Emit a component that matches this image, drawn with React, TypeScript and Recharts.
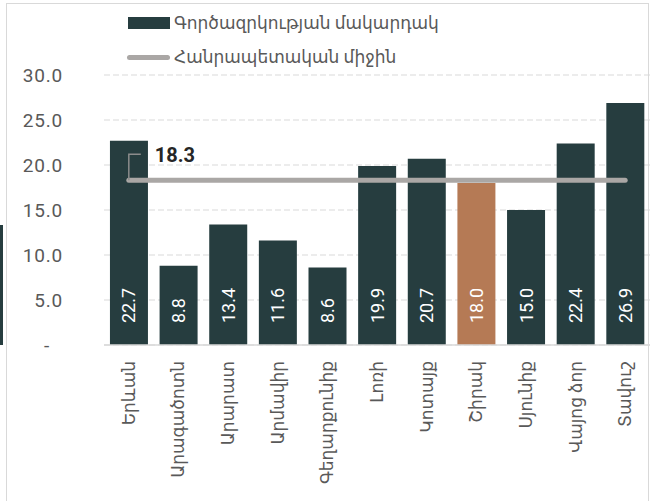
import React from 'react'
import { ComposedChart, Bar, Line, XAxis, YAxis, CartesianGrid, Cell, LabelList } from 'recharts'

const REGIONS = [
  'Երևան',
  'Արագածոտն',
  'Արարատ',
  'Արմավիր',
  'Գեղարքունիք',
  'Լոռի',
  'Կոտայք',
  'Շիրակ',
  'Սյունիք',
  'Վայոց ձոր',
  'Տավուշ',
]
const RATES = [22.7, 8.8, 13.4, 11.6, 8.6, 19.9, 20.7, 18.0, 15.0, 22.4, 26.9]
const NATIONAL_AVG = 18.3
const Y_TICKS = [0, 5, 10, 15, 20, 25, 30]
const HIGHLIGHT = 'Շիրակ'
const SERIES_NAMES = ['Գործազրկության մակարդակ', 'Հանրապետական միջին']

const data = REGIONS.map((region, i) => ({ region, rate: RATES[i], avg: NATIONAL_AVG }))

const FONT = 'Roboto, "Noto Sans", "DejaVu Sans", sans-serif'
const DARK = '#263d3f'
const ORANGE = '#b57a55'
const GREY_TEXT = '#595959'
const AVG_GREY = '#aaa7a5'

function YTick({ x, y, payload }: any) {
  const zero = payload.value === 0
  return (
    <text
      x={zero ? x - 13 : x}
      y={y}
      textAnchor="end"
      dominantBaseline="central"
      fill={GREY_TEXT}
      fontSize={19}
      fontFamily={FONT}
      letterSpacing={0.8}
    >
      {zero ? '-' : Number(payload.value).toFixed(1)}
    </text>
  )
}

function XTick({ x, y, payload }: any) {
  return (
    <text
      transform={`translate(${x},${y + 16}) rotate(-90)`}
      textAnchor="end"
      dominantBaseline="central"
      fill={GREY_TEXT}
      fontSize={17}
      fontFamily={FONT}
    >
      {payload.value}
    </text>
  )
}

function BarValue(props: any) {
  const x = Number(props.x)
  const y = Number(props.y)
  const w = Number(props.width)
  const h = Number(props.height)
  const cx = x + w / 2
  const by = y + h - 22
  return (
    <text
      transform={`translate(${cx},${by}) rotate(-90)`}
      textAnchor="start"
      dominantBaseline="central"
      fill="#ffffff"
      fontSize={18}
      fontFamily={FONT}
    >
      {Number(props.value).toFixed(1)}
    </text>
  )
}

function AvgLabel(props: any) {
  if (props.index !== 0) return null
  const x = Number(props.x)
  const y = Number(props.y)
  return (
    <g>
      <polyline
        points={`${x},${y} ${x},${y - 26} ${x + 12},${y - 26}`}
        fill="none"
        stroke="#8c8c8c"
        strokeWidth={1.5}
      />
      <text
        x={x + 26}
        y={y - 25}
        dominantBaseline="central"
        fill="#262626"
        fontSize={20}
        fontWeight={700}
        fontFamily={FONT}
      >
        {Number(props.value).toFixed(1)}
      </text>
    </g>
  )
}

export default function App() {
  return (
    <div
      style={{
        position: 'absolute',
        left: 0,
        top: 0,
        width: 650,
        height: 501,
        background: '#ffffff',
        overflow: 'hidden',
        fontFamily: FONT,
      }}
    >
      {/* frame of the surrounding sheet */}
      <div style={{ position: 'absolute', left: 6, top: 3, width: 643, height: 1, background: '#d9d9d9' }} />
      <div style={{ position: 'absolute', left: 6, top: 3, width: 1, height: 498, background: '#d9d9d9' }} />
      <div style={{ position: 'absolute', left: 648, top: 3, width: 1, height: 498, background: '#d9d9d9' }} />
      <div style={{ position: 'absolute', left: 0, top: 225, width: 3, height: 120, background: DARK }} />

      <ComposedChart
        width={650}
        height={501}
        data={data}
        margin={{ top: 75, right: 0, bottom: 0, left: 0 }}
        barCategoryGap="12%"
        style={{ position: 'absolute', left: 0, top: 0 }}
      >
        <CartesianGrid vertical={false} stroke="#d9d9d9" strokeDasharray="6 3" />
        <XAxis
          dataKey="region"
          interval={0}
          height={156}
          tickLine={false}
          tickSize={0}
          tickMargin={0}
          axisLine={{ stroke: '#d9d9d9', strokeWidth: 1.5 }}
          tick={<XTick />}
        />
        <YAxis
          width={104}
          domain={[0, 30]}
          ticks={Y_TICKS}
          axisLine={false}
          tickLine={false}
          tickSize={0}
          tickMargin={41}
          tick={<YTick />}
        />
        <Bar dataKey="rate" name={SERIES_NAMES[0]} isAnimationActive={false}>
          {data.map(d => (
            <Cell key={d.region} fill={d.region === HIGHLIGHT ? ORANGE : DARK} />
          ))}
          <LabelList dataKey="rate" content={<BarValue />} />
        </Bar>
        <Line
          dataKey="avg"
          name={SERIES_NAMES[1]}
          stroke={AVG_GREY}
          strokeWidth={5}
          strokeLinecap="round"
          dot={false}
          activeDot={false}
          isAnimationActive={false}
        >
          <LabelList dataKey="avg" content={<AvgLabel />} />
        </Line>
      </ComposedChart>

      {/* legend */}
      <div style={{ position: 'absolute', left: 128, top: 17, width: 42, height: 12, background: DARK }} />
      <div
        style={{
          position: 'absolute',
          left: 174,
          top: 12,
          fontSize: 17,
          lineHeight: '22px',
          color: GREY_TEXT,
          whiteSpace: 'nowrap',
        }}
      >
        {SERIES_NAMES[0]}
      </div>
      <div
        style={{
          position: 'absolute',
          left: 127,
          top: 55,
          width: 43,
          height: 5,
          borderRadius: 3,
          background: AVG_GREY,
        }}
      />
      <div
        style={{
          position: 'absolute',
          left: 174,
          top: 46,
          fontSize: 17,
          lineHeight: '22px',
          color: GREY_TEXT,
          whiteSpace: 'nowrap',
        }}
      >
        {SERIES_NAMES[1]}
      </div>
    </div>
  )
}
